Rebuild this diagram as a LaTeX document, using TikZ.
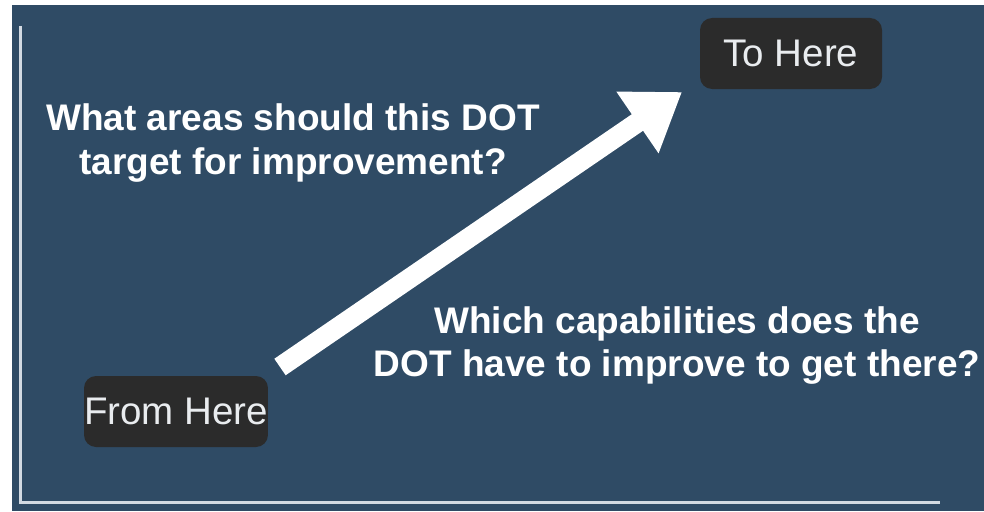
\documentclass[tikz,border=0pt]{standalone}
\usepackage{fontspec}
\setmainfont{Liberation Sans}
\usetikzlibrary{arrows.meta}
\definecolor{bgblue}{HTML}{2F4B65}
\definecolor{boxgrey}{HTML}{2B2B2B}
\definecolor{axisgrey}{HTML}{D3DAE2}
\definecolor{boxtext}{HTML}{E9ECEF}
\tikzset{
  place/.style={fill=boxgrey, rounded corners=12pt, minimum width=182pt, minimum height=71pt, inner sep=0pt, text=boxtext, font=\fontsize{38.5}{44}\selectfont},
  question/.style={anchor=base, inner sep=0pt, text=white, font=\bfseries\fontsize{37}{44}\selectfont},
  axisline/.style={draw=axisgrey, line width=3pt},
  bigarrow/.style={draw=white, line width=20pt, -{Triangle[length=54pt,width=71pt]}}
}
\begin{document}
\begin{tikzpicture}[x=1pt,y=-1pt]
\useasboundingbox (0,0) rectangle (984,511);
\fill[white] (0,0) rectangle (984,511);
\fill[bgblue] (12,5) rectangle (984,511);
% axes
\coordinate (ytop) at (20,26);
\coordinate (origin) at (20,502);
\coordinate (xend) at (940,502);
\draw[axisline] (ytop) -- (origin) -- (xend);
% boxes
\node[place] (from) at (176,411.5) {From Here};
\node[place] (to) at (791,53.5) {To Here};
% arrow
\coordinate (tail) at (280,367);
\coordinate (tip) at (682,92);
\draw[bigarrow] (tail) -- (tip);
% questions
\node[question] (q1a) at (293,130) {What areas should this DOT};
\node[question] (q1b) at (293,174) {target for improvement?};
\node[question] (q2a) at (677,333) {Which capabilities does the};
\node[question] (q2b) at (677,376) {DOT have to improve to get there?};
\end{tikzpicture}
\end{document}
